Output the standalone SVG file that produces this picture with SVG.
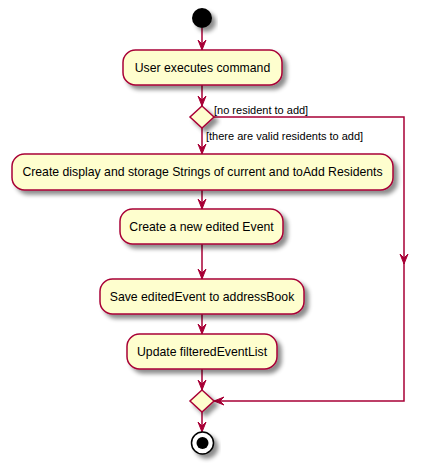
<svg xmlns="http://www.w3.org/2000/svg" width="428" height="471" viewBox="0 0 428 471">
<style>
.node{fill:#FEFECE;stroke:#A80036;stroke-width:1.5;filter:url(#sh)}
.t{font-family:"Liberation Sans",Arial,sans-serif;font-size:12.25px;fill:#000;text-anchor:middle}
.g{font-family:"Liberation Sans",Arial,sans-serif;font-size:11px;fill:#000}
.c{fill:none;stroke:#A80036;stroke-width:1.5;marker-end:url(#ah)}
</style>
<defs>
<filter id="sh" x="-20%" y="-20%" width="150%" height="160%">
<feGaussianBlur in="SourceAlpha" stdDeviation="2"/>
<feOffset dx="4" dy="4" result="b"/>
<feColorMatrix in="b" type="matrix" values="0 0 0 0 0  0 0 0 0 0  0 0 0 0 0  0 0 0 0.45 0" result="s"/>
<feMerge><feMergeNode in="s"/><feMergeNode in="SourceGraphic"/></feMerge>
</filter>
<marker id="ah" viewBox="-11 -5 12 10" refX="0" refY="0" markerWidth="12" markerHeight="10" markerUnits="userSpaceOnUse" orient="auto" overflow="visible">
<path d="M0,0 L-10,-4 L-6,0 L-10,4 Z" fill="#A80036" stroke="#A80036" stroke-width="1"/>
</marker>
</defs>
<g id="connectors">
<path class="c" d="M202,28 V50"/>
<path class="c" d="M202,85 V106"/>
<path class="c" d="M202,128 V154"/>
<path class="c" d="M202,190 V209"/>
<path class="c" d="M202,244 V279"/>
<path class="c" d="M202,314 V334"/>
<path class="c" d="M202,369 V390"/>
<path class="c" d="M202,412 V432"/>
<path class="c" d="M214,117 H404 V264"/>
<path class="c" d="M404,262 V401 H214"/>
<text class="g" x="214" y="114">[no resident to add]</text>
<text class="g" x="206" y="140">[there are valid residents to add]</text>
</g>
<g id="start"><circle cx="202" cy="18" r="10" fill="#000" filter="url(#sh)"/></g>
<g id="n1"><rect class="node" x="123" y="50" width="159" height="35" rx="12.5"/><text class="t" x="202.5" y="72">User executes command</text></g>
<g id="d1"><polygon class="node" points="202,106 214,117 202,128 190,117"/></g>
<g id="n2"><rect class="node" x="12" y="154" width="381" height="36" rx="12.5"/><text class="t" x="202.5" y="176">Create display and storage Strings of current and toAdd Residents</text></g>
<g id="n3"><rect class="node" x="120" y="209" width="163" height="35" rx="12.5"/><text class="t" x="201.5" y="231">Create a new edited Event</text></g>
<g id="n4"><rect class="node" x="100" y="279" width="204" height="35" rx="12.5"/><text class="t" x="202" y="301">Save editedEvent to addressBook</text></g>
<g id="n5"><rect class="node" x="127" y="334" width="150" height="35" rx="12.5"/><text class="t" x="202" y="356">Update filteredEventList</text></g>
<g id="d2"><polygon class="node" points="202,390 214,401 202,412 190,401"/></g>
<g id="end"><circle cx="202.5" cy="443" r="11" fill="#FFFFFF" stroke="#000" stroke-width="1.5" filter="url(#sh)"/><circle cx="202.5" cy="443" r="6" fill="#000"/></g>
</svg>
